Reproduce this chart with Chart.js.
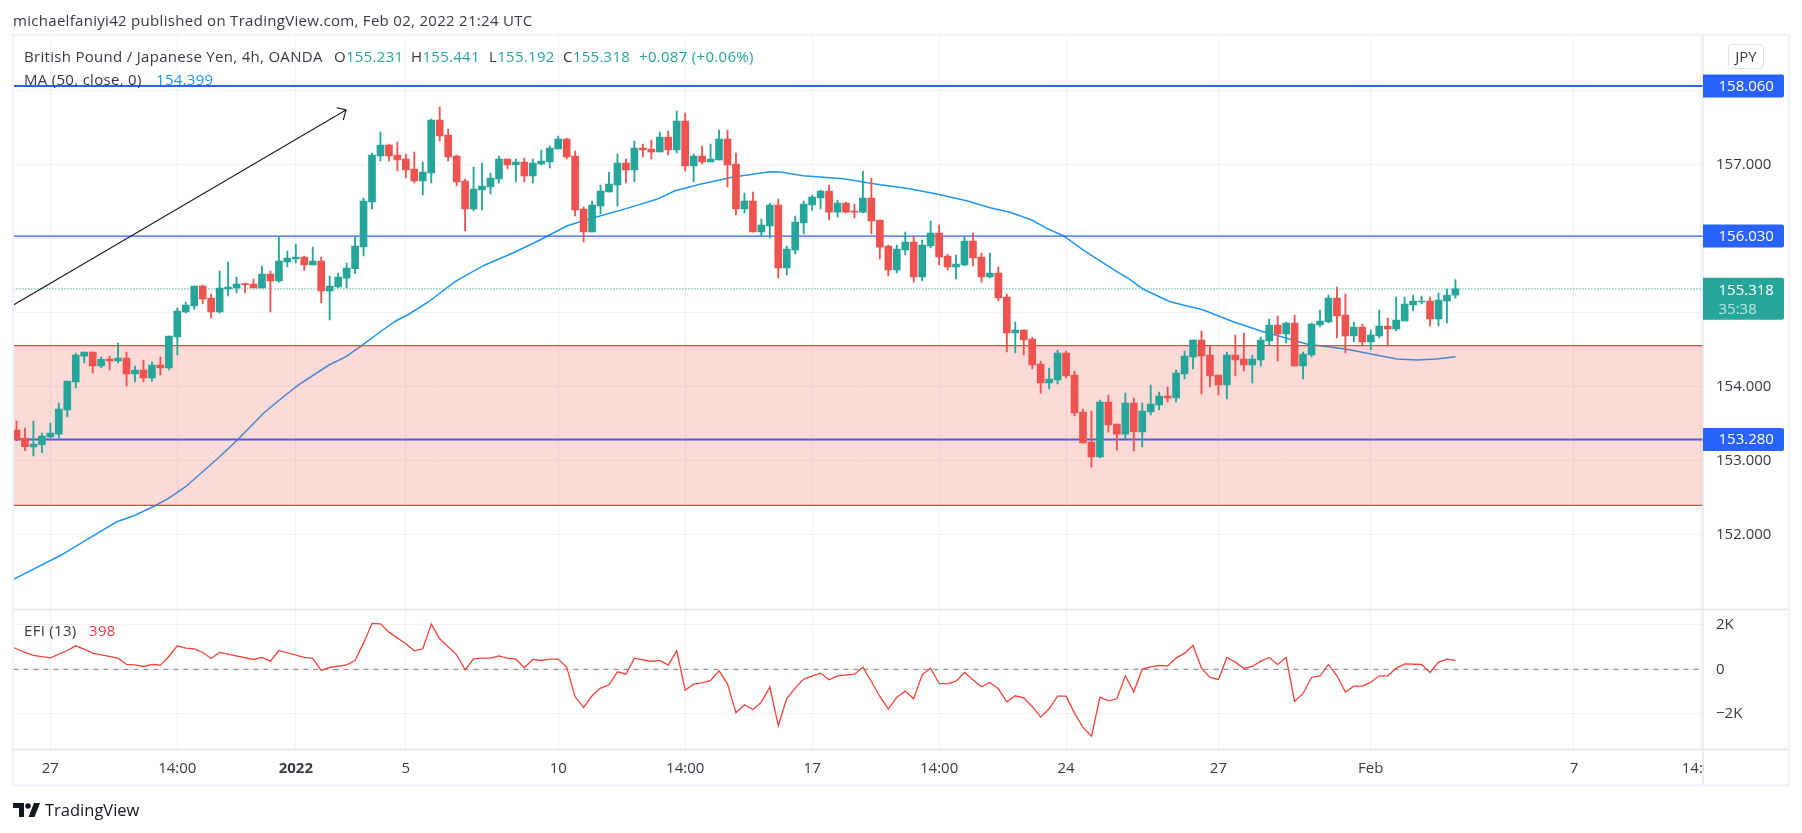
<!DOCTYPE html>
<html><head><meta charset="utf-8">
<script src="https://cdn.jsdelivr.net/npm/chart.js"></script>
<style>
html,body{margin:0;padding:0;background:#fff;width:1802px;height:833px;overflow:hidden}
canvas{position:absolute;left:0;top:0}
.t{position:absolute;white-space:pre;line-height:20px;font-family:"Open Sans",sans-serif;font-size:15px;letter-spacing:.3px;color:#363a45;z-index:2}
</style></head><body>
<canvas id="c" width="1802" height="833"></canvas>
<div class="t" style="left:13px;top:10px">michaelfaniyi42 published on TradingView.com, Feb 02, 2022 21:24 UTC</div>
<div class="t" style="left:24px;top:46px">British Pound / Japanese Yen, 4h, OANDA</div>
<div class="t" style="left:334px;top:46px">O<span style="color:#26a69a">155.231</span></div>
<div class="t" style="left:411px;top:46px">H<span style="color:#26a69a">155.441</span></div>
<div class="t" style="left:489px;top:46px">L<span style="color:#26a69a">155.192</span></div>
<div class="t" style="left:563px;top:46px">C<span style="color:#26a69a">155.318</span></div>
<div class="t" style="left:639px;top:46px;color:#26a69a">+0.087 (+0.06%)</div>
<div class="t" style="left:24px;top:69px">MA (50, close, 0)</div>
<div class="t" style="left:156px;top:69px;color:#2196f3">154.399</div>
<div class="t" style="left:24px;top:620px">EFI (13)</div>
<div class="t" style="left:89px;top:620px;color:#f23645">398</div>
<div class="t" style="left:1728px;top:44px;width:34px;height:23px;line-height:23px;text-align:center;border:1px solid #e0e3eb;border-radius:4px;letter-spacing:0">JPY</div>
<svg style="position:absolute;left:13px;top:803px;z-index:2" width="27" height="14" viewBox="0 0 27 14"><path d="M0 0h11v14H6V5H0z" fill="#131722"/><circle cx="15" cy="3" r="2.8" fill="#131722"/><path d="M21 0h6l-5.5 14h-6z" fill="#131722"/></svg>
<div class="t" style="left:45px;top:800px;font-size:16.5px;letter-spacing:0;color:#131722">TradingView</div>
<script>
const opens=[153.409,153.301,153.180,153.211,153.315,153.355,153.680,154.058,154.409,154.463,
154.274,154.369,154.342,154.382,154.166,154.220,154.112,154.288,154.247,154.666,
155.004,155.085,155.355,155.193,155.004,155.315,155.328,155.387,155.382,155.328,
155.517,155.423,155.680,155.720,155.747,155.639,155.693,155.288,155.342,155.463,
155.590,155.883,156.491,157.112,157.261,157.126,157.072,156.937,156.774,156.883,
157.599,157.396,157.112,156.774,156.396,156.653,156.693,156.801,157.072,156.991,
157.031,156.842,157.004,157.031,157.207,157.342,157.112,156.396,156.085,156.437,
156.626,156.720,157.018,156.923,157.220,157.207,157.166,157.369,157.193,157.585,
156.977,157.112,157.031,157.058,157.342,157.004,156.396,156.504,156.085,156.166,
156.450,155.599,155.842,156.207,156.450,156.545,156.639,156.355,156.477,156.364,
156.355,156.545,156.247,155.896,155.572,155.842,155.950,155.477,155.896,156.072,
155.761,155.612,155.639,155.964,155.747,155.477,155.531,155.207,154.720,154.761,
154.639,154.301,154.045,154.085,154.450,154.153,153.653,153.247,153.045,153.788,
153.491,153.355,153.775,153.383,153.653,153.748,153.869,153.842,154.166,154.396,
154.626,154.423,154.153,154.018,154.423,154.369,154.288,154.356,154.612,154.829,
154.707,154.856,154.275,154.423,154.829,154.869,155.193,154.964,154.680,154.802,
154.599,154.680,154.815,154.775,154.883,155.099,155.139,155.153,154.910,155.153,
155.231];
const highs=[153.531,153.436,153.531,153.369,153.504,153.774,154.071,154.450,154.463,154.463,
154.396,154.409,154.585,154.463,154.274,154.355,154.328,154.396,154.680,155.058,
155.139,155.355,155.369,155.247,155.558,155.680,155.477,155.396,155.450,155.626,
155.558,156.026,155.828,155.923,155.761,155.882,155.747,155.490,155.531,155.666,
156.022,156.545,157.153,157.437,157.274,157.301,157.139,157.166,157.031,157.612,
157.774,157.477,157.126,156.801,156.964,157.018,156.883,157.112,157.072,157.072,
157.085,157.072,157.193,157.247,157.383,157.355,157.180,156.423,156.504,156.720,
156.896,157.139,157.072,157.315,157.274,157.328,157.437,157.450,157.720,157.693,
157.139,157.247,157.274,157.464,157.464,157.153,156.612,156.626,156.261,156.477,
156.531,155.896,156.301,156.504,156.585,156.653,156.720,156.518,156.491,156.464,
156.909,156.815,156.247,155.909,155.909,156.085,156.031,155.977,156.234,156.180,
155.788,155.774,156.031,156.072,155.801,155.801,155.612,155.247,154.869,154.761,
154.666,154.342,154.247,154.491,154.477,154.207,153.693,153.666,153.815,153.882,
153.491,153.909,153.842,153.775,154.018,153.923,153.991,154.221,154.477,154.626,
154.748,154.545,154.153,154.464,154.693,154.721,154.423,154.666,154.910,154.950,
154.869,154.964,154.464,154.856,155.031,155.234,155.342,155.248,154.869,154.842,
154.761,155.031,154.923,155.207,155.207,155.234,155.221,155.207,155.261,155.315,
155.441];
const lows=[153.265,153.130,153.058,153.103,153.306,153.301,153.585,153.977,154.315,154.180,
154.247,154.220,154.315,154.004,154.058,154.058,154.071,154.153,154.220,154.423,
154.990,155.044,155.112,154.923,154.990,155.220,155.261,155.261,155.328,155.328,
155.004,155.409,155.612,155.666,155.571,155.639,155.126,154.896,155.328,155.328,
155.522,155.761,156.396,157.045,157.045,156.910,156.815,156.747,156.585,156.747,
157.315,157.045,156.707,156.099,156.369,156.383,156.599,156.747,156.937,156.761,
156.761,156.747,156.991,156.950,157.207,157.072,156.301,155.950,156.085,156.328,
156.626,156.437,156.747,156.761,157.099,157.072,157.166,157.126,157.153,156.910,
156.761,157.004,157.031,157.058,156.693,156.315,156.342,156.085,156.031,156.004,
155.464,155.504,155.788,156.058,156.382,156.396,156.247,156.288,156.342,156.274,
156.342,156.058,155.720,155.491,155.531,155.774,155.409,155.423,155.869,155.639,
155.572,155.450,155.626,155.626,155.409,155.464,155.153,154.464,154.450,154.423,
154.234,153.909,153.964,154.031,154.112,153.599,153.234,152.909,153.031,153.382,
153.139,153.288,153.126,153.180,153.612,153.680,153.788,153.788,154.099,154.234,
153.896,153.991,153.883,153.829,154.139,154.207,154.045,154.275,154.558,154.342,
154.585,154.275,154.099,154.396,154.802,154.856,154.653,154.450,154.599,154.545,
154.491,154.653,154.545,154.748,154.883,155.018,155.112,154.815,154.815,154.856,
155.192];
const closes=[153.283,153.184,153.220,153.328,153.369,153.693,154.071,154.423,154.463,154.274,
154.364,154.342,154.382,154.166,154.220,154.112,154.288,154.247,154.680,155.017,
155.098,155.355,155.180,155.004,155.328,155.342,155.382,155.373,155.328,155.517,
155.423,155.693,155.734,155.747,155.639,155.693,155.288,155.355,155.477,155.598,
155.896,156.504,157.126,157.261,157.112,157.058,156.923,156.774,156.896,157.599,
157.383,157.099,156.761,156.396,156.666,156.707,156.815,157.072,156.991,157.031,
156.842,157.018,157.045,157.220,157.342,157.099,156.383,156.085,156.450,156.639,
156.734,157.018,156.923,157.220,157.193,157.166,157.369,157.193,157.585,156.977,
157.112,157.031,157.072,157.342,156.991,156.396,156.504,156.085,156.180,156.450,
155.599,155.855,156.220,156.464,156.558,156.639,156.355,156.477,156.355,156.355,
156.545,156.234,155.882,155.572,155.855,155.950,155.477,155.909,156.072,155.747,
155.612,155.653,155.964,155.734,155.477,155.531,155.193,154.720,154.761,154.626,
154.288,154.045,154.099,154.450,154.139,153.639,153.234,153.045,153.788,153.477,
153.355,153.774,153.383,153.666,153.761,153.869,153.842,154.180,154.410,154.626,
154.410,154.139,154.018,154.423,154.356,154.288,154.369,154.626,154.829,154.707,
154.856,154.275,154.437,154.842,154.883,155.193,154.950,154.680,154.802,154.599,
154.693,154.815,154.775,154.896,155.112,155.153,155.148,154.910,155.166,155.234,
155.318];

const maBars=[-0.366,5.28,8.9,11.84,13.88,16.36,17.95,19.98,23.8,26.09,29.24,31.06,33.32,36.92,38.93,40.78,43.27,44.84,46.2,48.69,51.81,55.15,58.7,61.85,65,66.58,68.94,72.1,75.64,77.8,80.75,84.69,89.03,90.2,92.96,97.68,102.02,105.17,108.72,112.26,115.02,117.38,119.94,121.72,123.68,126.04,129.99,131.36,133.13,136.28,140.22,143.76,146.92,150.07,152.43,157.16,161.09,163.07,165.43,167.79,170];
const maValues=[151.392,151.720,151.968,152.170,152.251,152.386,152.486,152.643,153.027,153.274,153.643,153.815,154.018,154.288,154.400,154.549,154.761,154.886,154.964,155.143,155.414,155.630,155.805,155.977,156.166,156.224,156.301,156.405,156.527,156.643,156.730,156.828,156.900,156.896,156.846,156.805,156.724,156.676,156.599,156.508,156.414,156.351,156.247,156.135,156.035,155.842,155.549,155.459,155.311,155.143,155.031,154.873,154.751,154.649,154.572,154.500,154.414,154.369,154.355,154.369,154.399];

const efiBars=[-0.366,1,2,4,6,7,8,9,12,13,14,15,16,17,18,19,20,21,22,23,24,28,29,30,31,34,35,36,37,39,40,41,42,43,44,46,47,48,49,50,52,53,54,55,56,57,58,59,60,61,62,63,64,65,66,67,68,69,70,71,72,73,75,76,77,78,79,80,81,82,83,84,85,86,87,88,89,90,91,92,93,95,96,97,99,100,101,102,103,104,105,106,107,108,109,110,111,112,113,114,115,116,117,118,119,120,121,122,123,124,125,126,127,128,129,130,131,132,133,134,135,136,137,138,139,140,141,142,143,144,145,146,147,148,149,150,151,152,153,154,155,156,157,158,159,160,161,162,163,164,166,167,168,169,170];
const efiValues=[981,756,622,517,846,1056,906,727,502,217,202,127,217,187,577,1056,951,921,756,487,756,442,532,367,846,532,487,-52,82,202,397,1176,2060,2045,1670,1146,831,921,2030,1371,652,-22,472,502,502,607,502,457,67,442,397,457,457,97,-1236,-1715,-1191,-846,-697,-112,-217,502,352,397,187,831,-936,-667,-607,-502,-67,-652,-1955,-1595,-1805,-1475,-801,-2524,-1311,-846,-442,-172,-472,-292,-217,97,-547,-1221,-1790,-1251,-981,-1326,-247,52,-637,-652,-532,-142,-472,-786,-592,-876,-1461,-1191,-1281,-1670,-2150,-1775,-1206,-1206,-1970,-2614,-3003,-1251,-1416,-1326,-292,-1011,7,112,172,157,502,727,1071,52,-367,-457,532,322,37,127,367,532,217,532,-1446,-1086,-367,-292,217,-292,-1026,-757,-757,-577,-292,-292,52,247,217,-142,322,457,398];

const timeTickBars=[4,19,33,46,64,79,94,109,124,142,160,184,199];
const timeTickLabels=['27','14:00','2022','5','10','14:00','17','14:00','24','27','Feb','7','14:00'];
const priceTicks=[158,157,156,155,154,153,152];
const priceTickLabels=['','157.000','','','154.000','153.000','152.000'];
const efiTicks=[2000,0,-2000];
const efiTickLabels=['2K','0','\u22122K'];
const resistanceTop=158.06, resistanceMid=156.03, supportLevel=153.28;
const zoneHigh=154.549, zoneLow=152.392;
const lastPrice=155.318, countdown='35:38';
const blueLevels=[resistanceTop,resistanceMid,supportLevel];
const arrowBars=[-0.366,38.93,37.84,38.93,38.61];
const arrowPrices=[155.099,157.734,157.765,157.734,157.599];

const X0=-0.366, X1=199.25;
const UP='#26a69a', DOWN='#ef5350', BLUE='#2962ff', RED='#e8453c', INK='#363a45', GRID='#f0f2f5', FONT='"Open Sans",sans-serif';
const pts=(xs,ys)=>xs.map((x,i)=>({x,y:ys[i]}));
const hline=v=>[{x:X0,y:v},{x:X1,y:v}];
const colors=opens.map((o,i)=>closes[i]>=o?UP:DOWN);
const lineBase={type:'line',pointRadius:0,pointHoverRadius:0,tension:0,fill:false,xAxisID:'x'};

const chrome={id:'chrome',afterDraw(ch){
  const c=ch.ctx,a=ch.chartArea,y=ch.scales.y;
  c.save();
  const R=a.right+85;
  c.fillStyle='#fff';c.fillRect(a.right+1,a.bottom+1,R-a.right-1,35);
  c.strokeStyle='#e0e3eb';c.lineWidth=1.3;
  c.beginPath();
  c.moveTo(a.left,y.bottom);c.lineTo(R,y.bottom);
  c.moveTo(a.left,a.bottom);c.lineTo(R,a.bottom);
  c.moveTo(a.right,a.top);c.lineTo(a.right,a.bottom+35.5);
  c.stroke();
  c.strokeStyle='#f0f3fa';c.lineWidth=2.4;
  c.strokeRect(a.left-0.6,a.top-1.2,R-a.left+1.2,a.bottom+36-a.top+1.2);
  c.font='15px '+FONT;c.textBaseline='middle';c.textAlign='left';
  const chip=(v,text,col)=>{const p=y.getPixelForValue(v);
    c.fillStyle=col;c.beginPath();c.roundRect(a.right,p-11.5,81,23,[0,2,2,0]);c.fill();
    c.fillStyle='#fff';c.fillText(text,a.right+15.5,p+0.5);};
  chip(resistanceTop,'158.060',BLUE);chip(resistanceMid,'156.030',BLUE);chip(supportLevel,'153.280',BLUE);
  const p=y.getPixelForValue(lastPrice);
  c.fillStyle=UP;c.beginPath();c.roundRect(a.right,p-11,81,42,[0,2,2,0]);c.fill();
  c.fillStyle='#fff';c.fillText(lastPrice.toFixed(3),a.right+15.5,p+1.5);
  c.globalAlpha=.7;c.fillText(countdown,a.right+15.5,p+20.5);
  c.restore();
}};

new Chart(document.getElementById('c'),{
  type:'bar',
  plugins:[chrome],
  data:{datasets:[
    {...lineBase,label:'MA',data:pts(maBars,maValues),yAxisID:'y',borderColor:'#2196f3',borderWidth:1.5,order:9},
    ...blueLevels.map((v,i)=>({...lineBase,label:'level '+v,data:hline(v),yAxisID:'y',borderColor:BLUE,borderWidth:i===1?1.3:2,order:8})),
    {...lineBase,label:'zone',data:hline(zoneHigh),yAxisID:'y',borderColor:RED,borderWidth:1.3,fill:{target:{value:zoneLow}},backgroundColor:'rgba(240,70,60,0.2)',order:7},
    {...lineBase,label:'zone low',data:hline(zoneLow),yAxisID:'y',borderColor:RED,borderWidth:1.3,order:6},
    {...lineBase,label:'last',data:hline(lastPrice),yAxisID:'y',borderColor:UP,borderWidth:1.3,borderDash:[1,2],order:5},
    {...lineBase,label:'arrow',data:pts(arrowBars,arrowPrices),yAxisID:'y',borderColor:'#131722',borderWidth:1.1,order:4},
    {type:'bar',label:'wick',data:lows.map((l,i)=>({x:i,y:[l,highs[i]]})),backgroundColor:colors,barThickness:1.2,grouped:false,xAxisID:'x',yAxisID:'y',order:3},
    {type:'bar',label:'body',data:opens.map((o,i)=>({x:i,y:[o,closes[i]]})),backgroundColor:colors,barThickness:7,minBarLength:1,grouped:false,xAxisID:'x',yAxisID:'y',order:2},
    {...lineBase,label:'zero',data:hline(0),yAxisID:'efi',borderColor:'#787b86',borderWidth:1,borderDash:[5,5],order:1.5},
    {...lineBase,label:'EFI',data:pts(efiBars,efiValues),yAxisID:'efi',borderColor:'#f44336',borderWidth:1.3,order:1}
  ]},
  options:{
    responsive:false,animation:false,devicePixelRatio:1,
    layout:{padding:{left:13.4,right:14,top:36,bottom:48}},
    plugins:{legend:{display:false},tooltip:{enabled:false}},
    events:[],
    scales:{
      x:{type:'linear',position:'bottom',min:X0,max:X1,offset:false,
        afterBuildTicks:s=>{s.ticks=timeTickBars.map(v=>({value:v}))},
        afterFit:s=>{s.height=35.5},
        border:{display:false},
        grid:{color:GRID,lineWidth:1,drawTicks:false,offset:false},
        ticks:{autoSkip:false,maxRotation:0,padding:10,color:INK,
          font:c=>({family:FONT,size:15,weight:c.tick&&c.index===2?'bold':'normal'}),
          callback:(v,i)=>timeTickLabels[i]}},
      y:{type:'linear',position:'right',stack:'panes',stackWeight:573.5,weight:1,min:150.984,max:158.734,
        afterBuildTicks:s=>{s.ticks=priceTicks.map(v=>({value:v}))},
        afterFit:s=>{s.width=85},
        border:{display:false},
        grid:{color:GRID,lineWidth:1,drawTicks:false},
        ticks:{padding:13,color:INK,font:{family:FONT,size:15},callback:(v,i)=>priceTickLabels[i]}},
      efi:{type:'linear',position:'right',stack:'panes',stackWeight:140,weight:2,min:-3604,max:2688,
        afterBuildTicks:s=>{s.ticks=efiTicks.map(v=>({value:v}))},
        afterFit:s=>{s.width=85},
        border:{display:false},
        grid:{color:GRID,lineWidth:1,drawTicks:false},
        ticks:{padding:13,color:INK,font:{family:FONT,size:15},callback:(v,i)=>efiTickLabels[i]}}
    }
  }
});
</script>
</body></html>
